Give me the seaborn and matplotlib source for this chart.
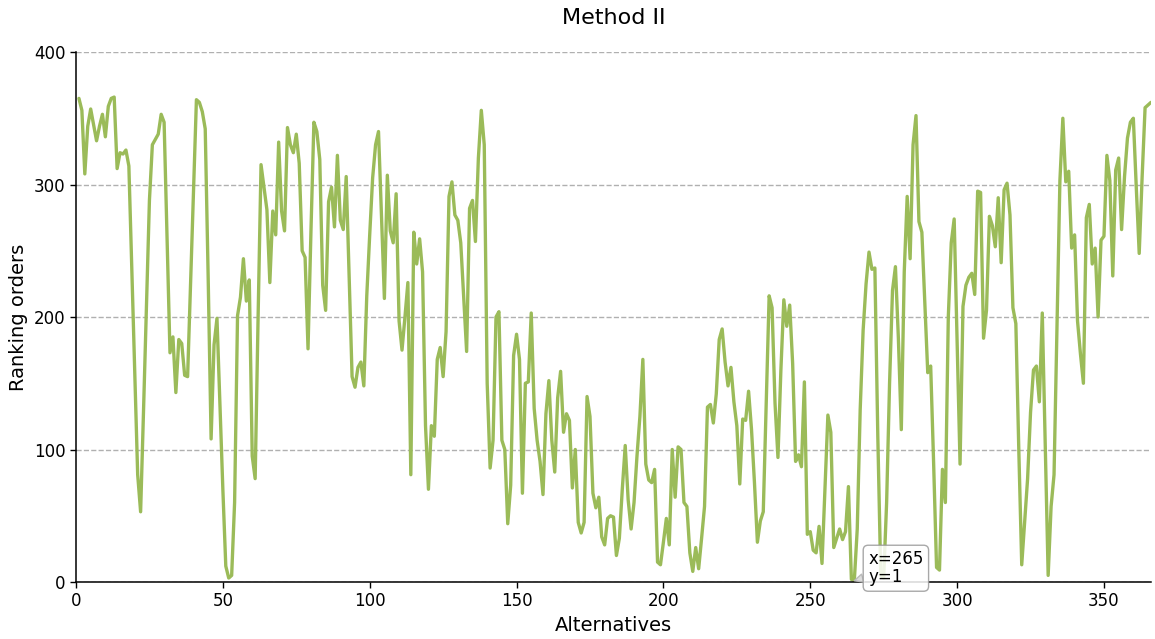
import matplotlib
matplotlib.use("Agg")
import matplotlib.pyplot as plt
import seaborn as sns
import numpy as np
import pandas as pd

# Alternatives are numbered 1..366
alternatives = list(range(1, 367))

ranking_orders = [
    365, 356, 308, 344, 357, 345, 333, 344, 353, 336,
    359, 365, 366, 312, 324, 323, 326, 314, 236, 158,
    81, 53, 130, 210, 288, 330, 334, 338, 353, 347,
    260, 173, 185, 143, 183, 180, 156, 155, 224, 294,
    364, 362, 355, 342, 230, 108, 179, 199, 135, 70,
    12, 3, 5, 60, 201, 215, 244, 212, 228, 95,
    78, 200, 315, 298, 281, 226, 280, 262, 332, 280,
    265, 343, 330, 324, 338, 316, 250, 245, 176, 265,
    347, 340, 319, 224, 205, 287, 298, 268, 322, 273,
    266, 306, 230, 155, 147, 162, 166, 148, 216, 262,
    305, 330, 340, 277, 214, 307, 265, 256, 293, 197,
    175, 200, 226, 81, 264, 240, 259, 234, 118, 70,
    118, 110, 168, 177, 155, 189, 291, 302, 277, 273,
    256, 215, 174, 282, 288, 257, 320, 356, 330, 150,
    86, 107, 200, 204, 107, 100, 44, 73, 171, 187,
    168, 67, 150, 151, 203, 131, 107, 91, 66, 127,
    152, 107, 83, 139, 159, 113, 127, 122, 71, 100,
    45, 37, 45, 140, 125, 67, 56, 64, 34, 28,
    48, 50, 49, 20, 33, 70, 103, 62, 40, 60,
    95, 125, 168, 89, 77, 75, 85, 15, 13, 30,
    48, 28, 100, 64, 102, 100, 60, 57, 22, 8,
    26, 10, 33, 57, 132, 134, 120, 142, 183, 191,
    166, 148, 162, 136, 118, 74, 123, 122, 144, 115,
    75, 30, 46, 53, 135, 216, 207, 135, 94, 160,
    213, 193, 209, 165, 91, 96, 87, 151, 36, 38,
    24, 22, 42, 14, 70, 126, 113, 26, 33, 40,
    32, 38, 72, 2, 1, 40, 130, 190, 225, 249,
    236, 237, 110, 5, 3, 60, 150, 220, 238, 184,
    115, 234, 291, 244, 330, 352, 272, 264, 210, 158,
    163, 90, 11, 9, 85, 60, 200, 256, 274, 180,
    89, 208, 224, 230, 233, 217, 295, 294, 184, 205,
    276, 269, 253, 290, 241, 296, 301, 277, 207, 195,
    100, 13, 45, 78, 128, 160, 163, 136, 203, 105,
    5, 57, 81, 190, 303, 350, 302, 310, 252, 262,
    197, 172, 150, 275, 285, 240, 252, 200, 258, 261,
    322, 303, 231, 311, 320, 266, 306, 335, 347, 350,
    298, 248, 306, 358, 360, 362,
]

x_ticks = [0, 50, 100, 150, 200, 250, 300, 350]
y_ticks = [0, 100, 200, 300, 400]

title = "Method II"
x_label = "Alternatives"
y_label = "Ranking orders"

annot_x = 265
annot_y = 1

sns.set_style("white")
plt.rcParams["font.family"] = ["DejaVu Sans"]
plt.rcParams["text.color"] = "black"
plt.rcParams["axes.labelcolor"] = "black"
plt.rcParams["xtick.color"] = "black"
plt.rcParams["ytick.color"] = "black"

df = pd.DataFrame({"Alternatives": alternatives, "Ranking orders": ranking_orders})

fig = plt.figure(figsize=(11.55, 6.39), dpi=100)
ax = fig.add_axes([0.0658, 0.0892, 0.9307, 0.8294])

sns.lineplot(data=df, x="Alternatives", y="Ranking orders", ax=ax,
             color="#9bbb59", linewidth=2.4)

ax.set_xlim(0, 366)
ax.set_ylim(0, 400)
ax.set_xticks(x_ticks)
ax.set_yticks(y_ticks)
ax.tick_params(axis="both", labelsize=12, direction="out", length=4, width=1,
               colors="black", labelcolor="black", bottom=True, left=True)
ax.yaxis.grid(True, linestyle="--", color="#b0b0b0", linewidth=1)
ax.xaxis.grid(False)
ax.set_axisbelow(True)

for s in ["top", "right"]:
    ax.spines[s].set_visible(False)
for s in ["left", "bottom"]:
    ax.spines[s].set_color("black")
    ax.spines[s].set_linewidth(1.1)

ax.set_title(title, fontsize=16, pad=20, color="black")
ax.set_xlabel(x_label, fontsize=14, color="black")
ax.set_ylabel(y_label, fontsize=14, color="black")

ax.annotate(f"x={annot_x}\ny={annot_y}", xy=(annot_x, annot_y),
            xytext=(10, -4), textcoords="offset points",
            ha="left", va="bottom", fontsize=12, linespacing=1.0, color="black",
            bbox=dict(boxstyle="round,pad=0.3", fc="white", ec="#999999", alpha=0.85),
            arrowprops=dict(arrowstyle="wedge,tail_width=0.5", fc="#dddddd", ec="#bbbbbb",
                            shrinkA=0, shrinkB=0),
            annotation_clip=False)

fig.savefig("out.png", dpi=100)
